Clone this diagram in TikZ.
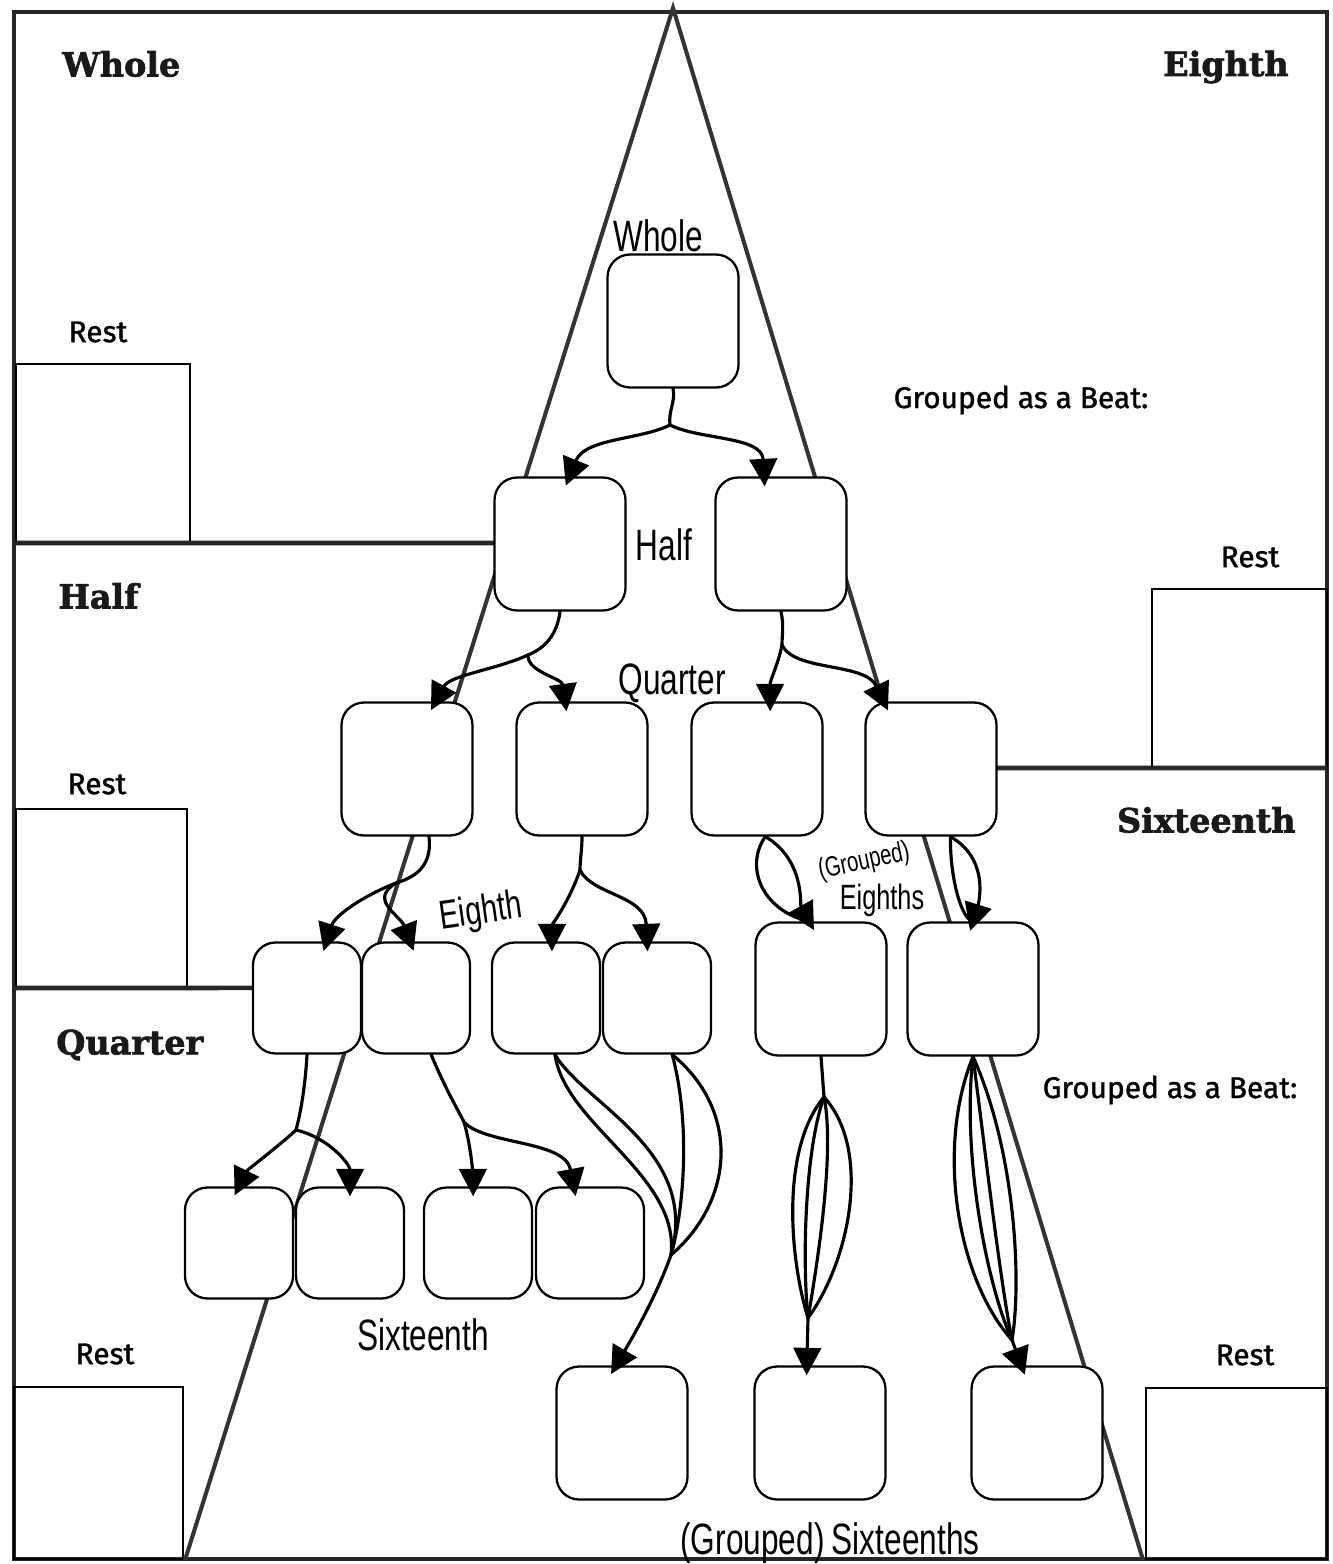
\documentclass[tikz,border=0pt]{standalone}
\usepackage{fontspec}
\usetikzlibrary{arrows.meta, calc}
\newfontfamily\headfont[BoldFeatures={FakeBold=2}]{DejaVu Serif}
\newfontfamily\printfont[FakeBold=1.2]{Fira Sans}
\newfontfamily\handfont[FakeStretch=0.72]{Liberation Sans}

\begin{document}
\begin{tikzpicture}[
    x=0.02cm, y=-0.02cm,
    >={Triangle[length=0.55cm, width=0.55cm]},
    box/.style={draw, fill=white, rounded corners=0.45cm, line width=1.3pt,
        minimum width=2.62cm, minimum height=2.66cm},
    smallbox/.style={box, minimum width=2.16cm, minimum height=2.22cm},
    frame/.style={line width=2.6pt, draw=black!85},
    restbox/.style={line width=1.2pt},
    heading/.style={inner sep=0pt, text=black!90,
        font=\headfont\bfseries\fontsize{19}{21}\selectfont},
    print/.style={inner sep=0pt, font=\printfont\fontsize{17}{19}\selectfont},
    hand/.style={inner sep=0pt, font=\handfont\fontsize{25}{27}\selectfont},
    link/.style={line width=1.8pt, line cap=round},
    arrow/.style={link, ->, shorten >=-0.2cm}
]
    \useasboundingbox (0,0) rectangle (1332,1564);

    % corners of the big triangle
    \coordinate (apex) at (673,8);
    \coordinate (bl) at (185,1560);
    \coordinate (br) at (1143,1560);

    % outer frame, rest boxes and panel dividers
    \draw[frame] (14,12) rectangle (1327,1559);
    \draw[restbox] (16,364) rectangle (190,543);
    \draw[restbox] (16,809) rectangle (187,988);
    \draw[restbox] (14,1387) rectangle (183,1559);
    \draw[restbox] (1152,589) rectangle (1327,768);
    \draw[restbox] (1146,1388) rectangle (1327,1559);
    \draw[frame] (14,543) -- ($(apex)!0.3447!(bl)$);
    \draw[frame] (14,988) -- ($(apex)!0.6314!(bl)$);
    \draw[frame] ($(apex)!0.4897!(br)$) -- (1327,768);
    \draw[line width=2.3pt, draw=black!80] (bl) -- (apex) -- (br);

    % panel headings
    \node[heading, anchor=west] (hwhole) at (62,64) {Whole};
    \node[heading, anchor=west] (hhalf) at (58,596) {Half};
    \node[heading, anchor=west] (hquarter) at (56,1045) {Quarter};
    \node[heading, anchor=east] (heighth) at (1289,67) {Eighth};
    \node[heading, anchor=east] (hsixteenth) at (1296,820) {Sixteenth};

    % printed labels
    \node[print] (rest1) at (98,332) {Rest};
    \node[print] (rest2) at (97,784) {Rest};
    \node[print] (rest3) at (105,1354) {Rest};
    \node[print] (rest4) at (1250,557) {Rest};
    \node[print] (rest5) at (1245,1355) {Rest};
    \node[print] (beat1) at (1021,400) {Grouped as a Beat:};
    \node[print] (beat2) at (1170,1090) {Grouped as a Beat:};

    % the boxes of the tree
    \node[box] (w) at (673,321) {};
    \node[box] (h1) at (560,544) {};
    \node[box] (h2) at (781,544) {};
    \foreach \n/\x in {q1/407, q2/582, q3/757, q4/931}
        \node[box] (\n) at (\x,769) {};
    \foreach \n/\x in {e1/307, e2/416, e3/546, e4/657}
        \node[smallbox] (\n) at (\x,998) {};
    \node[box] (e5) at (821,989) {};
    \node[box] (e6) at (973,989) {};
    \foreach \n/\x in {s1/239, s2/350, s3/478, s4/590}
        \node[smallbox] (\n) at (\x,1243) {};
    \foreach \n/\x in {g1/622, g2/820, g3/1037}
        \node[box] (\n) at (\x,1433) {};

    % handwritten labels
    \node[hand] (lwhole) at (658,236) {Whole};
    \node[hand] (lhalf) at (664,545) {Half};
    \node[hand] (lquarter) at (672,683) {Quarter};
    \node[hand, rotate=8, font=\handfont\fontsize{23}{25}\selectfont] (leighth) at (481,913) {Eighth};
    \node[hand, rotate=12, font=\handfont\fontsize{16}{18}\selectfont] (lgrouped) at (864,862) {(Grouped)};
    \node[hand, font=\handfont\fontsize{20}{22}\selectfont] (leighths) at (882,900) {Eighths};
    \node[hand] (lsixteenth) at (423,1335) {Sixteenth};
    \node[hand] (lgroupedsix) at (830,1543) {(Grouped)\,Sixteenths};

    % whole -> halves
    \coordinate (j0) at (670,425);
    \draw[link] (w.south) .. controls (676,400) and (668,412) .. (j0);
    \draw[arrow] (j0) .. controls (640,440) and (585,438) .. (h1.82);
    \draw[arrow] (j0) .. controls (700,440) and (762,436) .. (h2.104);

    % halves -> quarters
    \coordinate (j1) at (528,655);
    \draw[link] (h1.south) .. controls (557,635) and (545,648) .. (j1);
    \draw[arrow] (j1) .. controls (495,670) and (450,675) .. (q1.67);
    \draw[arrow] (j1) .. controls (527,672) and (562,678) .. (q2.104);
    \coordinate (j2) at (782,645);
    \draw[link] (h2.south) .. controls (784,625) and (782,635) .. (j2);
    \draw[arrow] (j2) .. controls (778,665) and (770,680) .. (q3.79);
    \draw[arrow] (j2) .. controls (795,672) and (865,662) .. (q4.125);

    % quarters -> eighths
    \coordinate (j3) at (396,883);
    \draw[link] (q1.-72) .. controls (432,862) and (420,876) .. (j3);
    \draw[arrow] (j3) .. controls (365,895) and (335,915) .. (e1.71);
    \draw[arrow] (j3) .. controls (368,900) and (400,915) .. (e2.96);
    \coordinate (j4) at (580,870);
    \draw[link] (q2.south) .. controls (582,850) and (580,860) .. (j4);
    \draw[arrow] (j4) .. controls (570,900) and (552,925) .. (e3.84);
    \draw[arrow] (j4) .. controls (592,895) and (645,895) .. (e4.100);

    % grouped eighths
    \draw[link] (q3.-83) .. controls (745,865) and (760,910) .. (e5.100);
    \draw[arrow] (q3.-83) .. controls (805,860) and (800,905) .. (e5.100);
    \draw[link] (q4.-74) .. controls (950,880) and (962,920) .. (e6.north);
    \draw[arrow] (q4.-74) .. controls (995,862) and (975,915) .. (e6.north);

    % eighths -> sixteenths
    \coordinate (j5) at (296,1130);
    \draw[link] (e1.south) .. controls (305,1090) and (300,1115) .. (j5);
    \draw[arrow] (j5) .. controls (280,1145) and (247,1170) .. (s1.north);
    \draw[arrow] (j5) .. controls (330,1138) and (350,1165) .. (s2.north);
    \coordinate (j6) at (464,1122);
    \draw[link] (e2.-75) .. controls (445,1088) and (458,1110) .. (j6);
    \draw[arrow] (j6) .. controls (472,1150) and (473,1180) .. (s3.95);
    \draw[arrow] (j6) .. controls (485,1145) and (565,1140) .. (s4.106);

    % grouped sixteenths
    \coordinate (m1) at (671,1255);
    \draw[link] (e3.-81) .. controls (585,1105) and (700,1150) .. (m1);
    \draw[link] (e3.-81) .. controls (565,1125) and (680,1175) .. (m1);
    \draw[link] (e4.-75) .. controls (740,1110) and (735,1200) .. (m1);
    \draw[link] (e4.-75) .. controls (690,1120) and (685,1205) .. (m1);
    \draw[arrow] (m1) .. controls (655,1300) and (628,1345) .. (g1.95);

    \coordinate (j7) at (824,1097);
    \coordinate (m2) at (808,1318);
    \draw[link] (e5.south) -- (j7);
    \foreach \a/\b in {780/790, 805/802, 835/818, 872/850}
        \draw[link] (j7) .. controls (\a,1150) and (\b,1260) .. (m2);
    \draw[arrow] (m2) -- (g2.101);

    \coordinate (m3) at (1012,1340);
    \foreach \a/\b in {935/958, 962/985, 985/1000, 1015/1022}
        \draw[link] (e6.south) .. controls (\a,1150) and (\b,1280) .. (m3);
    \draw[arrow] (m3) -- (g3.103);

\end{tikzpicture}
\end{document}
